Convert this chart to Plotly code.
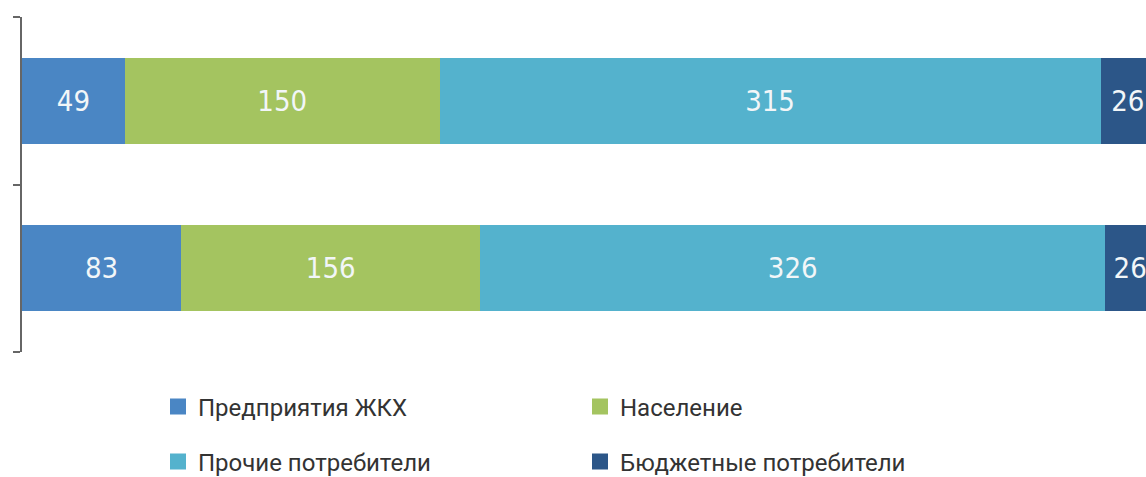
import plotly.graph_objects as go

categories = ["A", "B"]  # top bar, bottom bar
series_names = ["Предприятия ЖКХ", "Население", "Прочие потребители", "Бюджетные потребители"]
vals_zhkh = [49, 83]
vals_naselenie = [150, 156]
vals_prochie = [315, 326]
vals_budget = [26, 26]
colors = ["#4A86C4", "#A4C460", "#54B2CD", "#2C5688"]

series_vals = [vals_zhkh, vals_naselenie, vals_prochie, vals_budget]
ypos = [0, 1]

fig = go.Figure()
for name, vals, col in zip(series_names, series_vals, colors):
    fig.add_trace(go.Bar(
        x=vals, y=ypos, orientation="h", name=name,
        marker=dict(color=col, line=dict(width=0)),
        width=0.513,
        text=[str(v) for v in vals], texttemplate="%{text}",
        textposition="inside", insidetextanchor="middle",
        textfont=dict(family="DejaVu Sans Condensed, Roboto Condensed, Roboto", size=29, color="#F2F6F8"),
        showlegend=False, hoverinfo="skip",
    ))

# legend entries (two rows, two columns)
order = [(0, "legend"), (1, "legend"), (2, "legend2"), (3, "legend2")]
for idx, lg in order:
    fig.add_trace(go.Scatter(
        x=[None], y=[None], mode="markers", name=series_names[idx],
        marker=dict(symbol="square", size=16, color=colors[idx]),
        legend=lg, showlegend=True,
    ))

legend_font = dict(family="Roboto, Liberation Sans, sans-serif", size=24, color="#333333")
common_legend = dict(orientation="h", xref="container", yref="container",
                     xanchor="left", yanchor="middle", font=legend_font,
                     entrywidth=377, entrywidthmode="pixels", traceorder="normal",
                     bgcolor="rgba(0,0,0,0)", borderwidth=0, itemclick=False)

fig.update_layout(
    width=1146, height=477,
    paper_bgcolor="white", plot_bgcolor="white",
    barmode="stack", barnorm="percent",
    margin=dict(l=22, r=0, t=17, b=125, autoexpand=False),
    xaxis=dict(visible=False, range=[0, 99.2], fixedrange=True),
    yaxis=dict(range=[1.5, -0.5], tickvals=[-0.5, 0.5, 1.5], showticklabels=False,
               ticks="outside", ticklen=7, tickwidth=1.5, tickcolor="#666666",
               showline=True, linecolor="#666666", linewidth=1.5,
               showgrid=False, zeroline=False, fixedrange=True),
    legend=dict(x=158 / 1146, y=1 - 407 / 477, **common_legend),
    legend2=dict(x=158 / 1146, y=1 - 462 / 477, **common_legend),
)

fig.write_html("out.html", config={"displayModeBar": False},
               post_script="document.body.style.margin='0';")
